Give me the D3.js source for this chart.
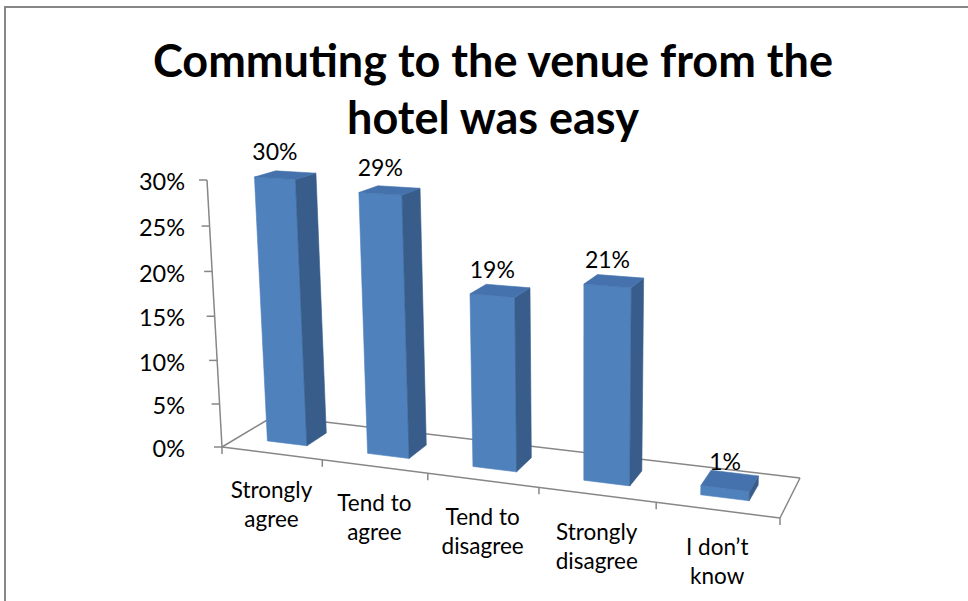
<!DOCTYPE html>
<html>
<head>
<meta charset="utf-8">
<script src="https://cdn.jsdelivr.net/npm/d3@7"></script>
<style>
  body { margin: 0; background: #fff; }
  svg { display: block; font-family: Lato, "Noto Sans", sans-serif; }
</style>
</head>
<body>
<script>
const categories = ["Strongly\nagree", "Tend to\nagree", "Tend to\ndisagree", "Strongly\ndisagree", "I don\u2019t\nknow"];
const values = [0.30, 0.29, 0.19, 0.21, 0.01];
const yTicks = [0, 0.05, 0.10, 0.15, 0.20, 0.25, 0.30];
const titleLines = ["Commuting to the venue from the", "hotel was easy"];

const width = 968, height = 601;

// 3D frame: floor corners on screen (front-left, front-right, back-right, back-left),
// top of the value axis, and the vertical perspective term
const floorCorners = [[222, 447], [780, 518], [800, 478], [274, 416]];
const axisTop = [207, 180];
const vPersp = -0.04;

// unit square -> floor quad (projective)
function squareToQuad(q) {
  const [[x0, y0], [x1, y1], [x2, y2], [x3, y3]] = q;
  const dx1 = x1 - x2, dx2 = x3 - x2, sx = x0 - x1 + x2 - x3;
  const dy1 = y1 - y2, dy2 = y3 - y2, sy = y0 - y1 + y2 - y3;
  const den = dx1 * dy2 - dx2 * dy1;
  const g = (sx * dy2 - dx2 * sy) / den;
  const h = (dx1 * sy - sx * dy1) / den;
  return {
    a: x1 - x0 + g * x1, b: x3 - x0 + h * x3, c: x0,
    d: y1 - y0 + g * y1, e: y3 - y0 + h * y3, f: y0,
    g, h
  };
}
const H = squareToQuad(floorCorners);
const U = axisTop[0] * (1 + vPersp) - H.c;
const V = axisTop[1] * (1 + vPersp) - H.f;

// s: along categories [0,1], t: depth [0,1], k: height [0,1]
function project(s, t, k) {
  const w = H.g * s + H.h * t + 1 + vPersp * k;
  return [(H.a * s + H.b * t + H.c + U * k) / w, (H.d * s + H.e * t + H.f + V * k) / w];
}

const xScale = d3.scaleBand()
  .domain(d3.range(categories.length))
  .range([0, 1])
  .paddingInner(0.6)
  .paddingOuter(0.3);

const yScale = d3.scaleLinear().domain([0, 0.30]).range([0, 1]);

const zFront = 0.3, zBack = 0.7;

const svg = d3.select("body").append("svg")
  .attr("width", width)
  .attr("height", height);

// chart border (runs off the right and bottom)
svg.append("rect")
  .attr("x", 5).attr("y", 7)
  .attr("width", width).attr("height", height)
  .attr("fill", "none")
  .attr("stroke", "#878787")
  .attr("stroke-width", 2);

// Title
svg.append("text")
  .attr("text-anchor", "middle")
  .attr("font-weight", "bold")
  .attr("font-size", 45)
  .attr("fill", "#000")
  .selectAll("tspan")
  .data(titleLines)
  .join("tspan")
  .attr("x", 493)
  .attr("y", (d, i) => 77 + i * 57)
  .text(d => d);

const axisColor = "#878787";
const line = d3.line();

// Floor outline
const floorEdges = [
  [[0, 0], [1, 0]],
  [[0, 1], [1, 1]],
  [[0, 0], [0, 1]],
  [[1, 0], [1, 1]]
];
svg.append("g")
  .selectAll("path")
  .data(floorEdges)
  .join("path")
  .attr("d", d => line(d.map(([s, t]) => project(s, t, 0))))
  .attr("fill", "none")
  .attr("stroke", axisColor)
  .attr("stroke-width", 1.5);

// Category tick marks on the front edge
const step = xScale.step();
svg.append("g")
  .selectAll("line")
  .data(d3.range(categories.length + 1))
  .join("line")
  .each(function (i) {
    const [x, y] = project(i * step, 0, 0);
    d3.select(this).attr("x1", x).attr("y1", y).attr("x2", x).attr("y2", y + 7);
  })
  .attr("stroke", axisColor)
  .attr("stroke-width", 1.5);

// Value axis
const axisG = svg.append("g");
axisG.append("path")
  .attr("d", line([project(0, 0, 0), project(0, 0, yScale(0.30))]))
  .attr("stroke", axisColor)
  .attr("stroke-width", 1.5);

const tickPts = yTicks.map(v => project(0, 0, yScale(v)));
const labelRight = d3.min(tickPts, p => p[0]) - 22;

axisG.selectAll(".tick")
  .data(yTicks)
  .join("line")
  .attr("class", "tick")
  .attr("x1", (d, i) => tickPts[i][0])
  .attr("x2", (d, i) => tickPts[i][0] - 8)
  .attr("y1", (d, i) => tickPts[i][1])
  .attr("y2", (d, i) => tickPts[i][1])
  .attr("stroke", axisColor)
  .attr("stroke-width", 1.5);

axisG.selectAll(".tick-label")
  .data(yTicks)
  .join("text")
  .attr("class", "tick-label")
  .attr("x", labelRight)
  .attr("y", (d, i) => tickPts[i][1] + 2)
  .attr("dy", "0.35em")
  .attr("text-anchor", "end")
  .attr("font-size", 23.5)
  .text(d3.format(".0%"));

// Bars
const faceColors = { front: "#4f81bd", side: "#385d8a", top: "#4572ad", back: "#385d8a" };

function barFaces(i, v) {
  const s0 = xScale(i), s1 = s0 + xScale.bandwidth();
  const k = yScale(v), z0 = zFront, z1 = zBack;
  return [
    { kind: "front", pts: [[s0, z0, 0], [s1, z0, 0], [s1, z0, k], [s0, z0, k]] },
    { kind: "side", pts: [[s1, z0, 0], [s1, z1, 0], [s1, z1, k], [s1, z0, k]] },
    { kind: "side", pts: [[s0, z1, 0], [s0, z0, 0], [s0, z0, k], [s0, z1, k]] },
    { kind: "top", pts: [[s0, z0, k], [s1, z0, k], [s1, z1, k], [s0, z1, k]] },
    { kind: "back", pts: [[s1, z1, 0], [s0, z1, 0], [s0, z1, k], [s1, z1, k]] }
  ].map(f => ({ kind: f.kind, screen: f.pts.map(p => project(...p)) }))
   .filter(f => d3.polygonArea(f.screen) > 0);
}

const bars = svg.append("g")
  .selectAll("g")
  .data(values)
  .join("g");

bars.selectAll("path")
  .data((v, i) => barFaces(i, v))
  .join("path")
  .attr("d", f => line(f.screen) + "Z")
  .attr("fill", f => faceColors[f.kind])
  .attr("stroke", f => faceColors[f.kind])
  .attr("stroke-width", 0.6)
  .attr("stroke-linejoin", "round");

// Data labels
svg.append("g")
  .selectAll("text")
  .data(values)
  .join("text")
  .each(function (v, i) {
    const [x, y] = project(xScale(i) + xScale.bandwidth() / 2, zFront, yScale(v));
    d3.select(this).attr("x", x).attr("y", y - 26);
  })
  .attr("dy", "0.35em")
  .attr("text-anchor", "middle")
  .attr("font-size", 23)
  .text(d3.format(".0%"));

// Category labels
svg.append("g")
  .selectAll("text")
  .data(categories)
  .join("text")
  .each(function (c, i) {
    const [x, y] = project(xScale(i) + xScale.bandwidth() / 2, 0, 0);
    d3.select(this)
      .selectAll("tspan")
      .data(c.split("\n"))
      .join("tspan")
      .attr("x", x)
      .attr("y", (d, j) => y + 37 + j * 29)
      .attr("dy", "0.35em")
      .text(d => d);
  })
  .attr("text-anchor", "middle")
  .attr("font-size", 22.5);
</script>
</body>
</html>
